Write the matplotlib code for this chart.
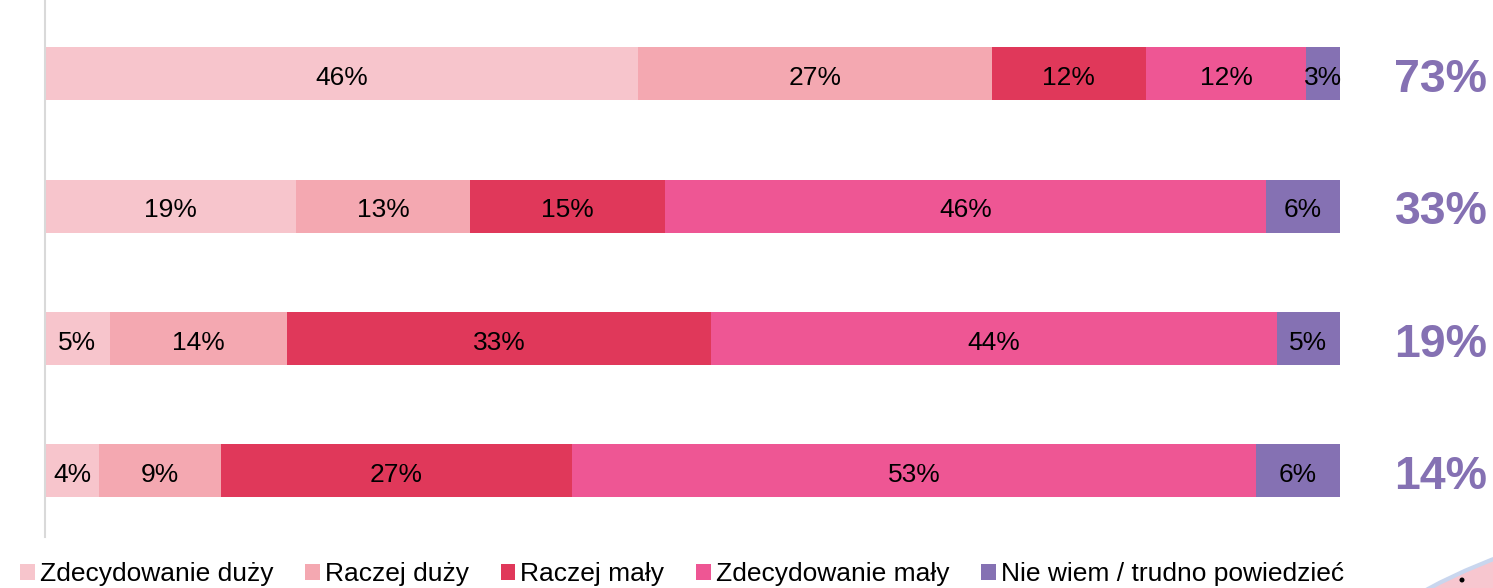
import numpy as np
import matplotlib.pyplot as plt
from matplotlib.patches import Patch, Circle
from matplotlib.transforms import blended_transform_factory, IdentityTransform

plt.rcParams['font.family'] = ['Liberation Sans', 'DejaVu Sans']

categories = ['Zdecydowanie duży', 'Raczej duży', 'Raczej mały', 'Zdecydowanie mały',
              'Nie wiem / trudno powiedzieć']
colors = ['#F7C5CC', '#F4A8B1', '#E0385A', '#EE5694', '#8571B3']

# segment sizes (top to bottom)
row1 = [45.8, 27.3, 11.9, 12.4, 2.6]
row2 = [19.4, 13.4, 15.1, 46.4, 5.7]
row3 = [5.0, 13.7, 32.7, 43.7, 4.9]
row4 = [4.2, 9.4, 27.1, 52.8, 6.5]

# printed labels (rounded)
labels1 = ['46%', '27%', '12%', '12%', '3%']
labels2 = ['19%', '13%', '15%', '46%', '6%']
labels3 = ['5%', '14%', '33%', '44%', '5%']
labels4 = ['4%', '9%', '27%', '53%', '6%']
totals = ['73%', '33%', '19%', '14%']

rows = np.array([row1, row2, row3, row4])
labels = [labels1, labels2, labels3, labels4]

W, H = 1493, 588
fig = plt.figure(figsize=(W / 100, H / 100), dpi=100)
ax = fig.add_axes([45 / W, 1 - 537 / H, (1340 - 45) / W, 537 / H])

y = np.arange(len(rows))
left = np.zeros(len(rows))
for j, cat in enumerate(categories):
    ax.barh(y, rows[:, j], left=left, height=0.4, color=colors[j], label=cat)
    for i in range(len(rows)):
        ax.text(left[i] + rows[i, j] / 2, y[i] + 0.03, labels[i][j],
                ha='center', va='center', fontsize=19, color='black')
    left += rows[:, j]

ax.set_xlim(0, 100)
ax.set_ylim(3.5, -0.559)
for s in ['top', 'right', 'bottom']:
    ax.spines[s].set_visible(False)
ax.spines['left'].set_color('#D9D9D9')
ax.spines['left'].set_linewidth(1.5)
ax.set_xticks([])
ax.set_yticks([])

trans = blended_transform_factory(fig.transFigure, ax.transData)
for i, t in enumerate(totals):
    ax.text(1441 / W, y[i] + 0.045, t, transform=trans, ha='center', va='center',
            fontsize=33.5, fontweight='bold', color='#8571B3', clip_on=False)

handles = [Patch(facecolor=c, edgecolor='none') for c in colors]
fig.legend(handles, categories, loc='center', bbox_to_anchor=(682 / W, 1 - 574 / H),
           ncol=5, frameon=False, fontsize=19, handlelength=0.55, handleheight=0.55,
           handletextpad=0.2, columnspacing=1.2, borderaxespad=0, borderpad=0)

# decorative shape in the bottom right corner
fig.patches.append(Circle((1700, H - 1100), 579, transform=IdentityTransform(),
                          facecolor='#F7C6CF', edgecolor='#C9D6EE', linewidth=3))
fig.patches.append(Circle((1462, H - 580), 2.5, transform=IdentityTransform(),
                          facecolor='black', edgecolor='none'))

fig.savefig('out.png', dpi=100)
